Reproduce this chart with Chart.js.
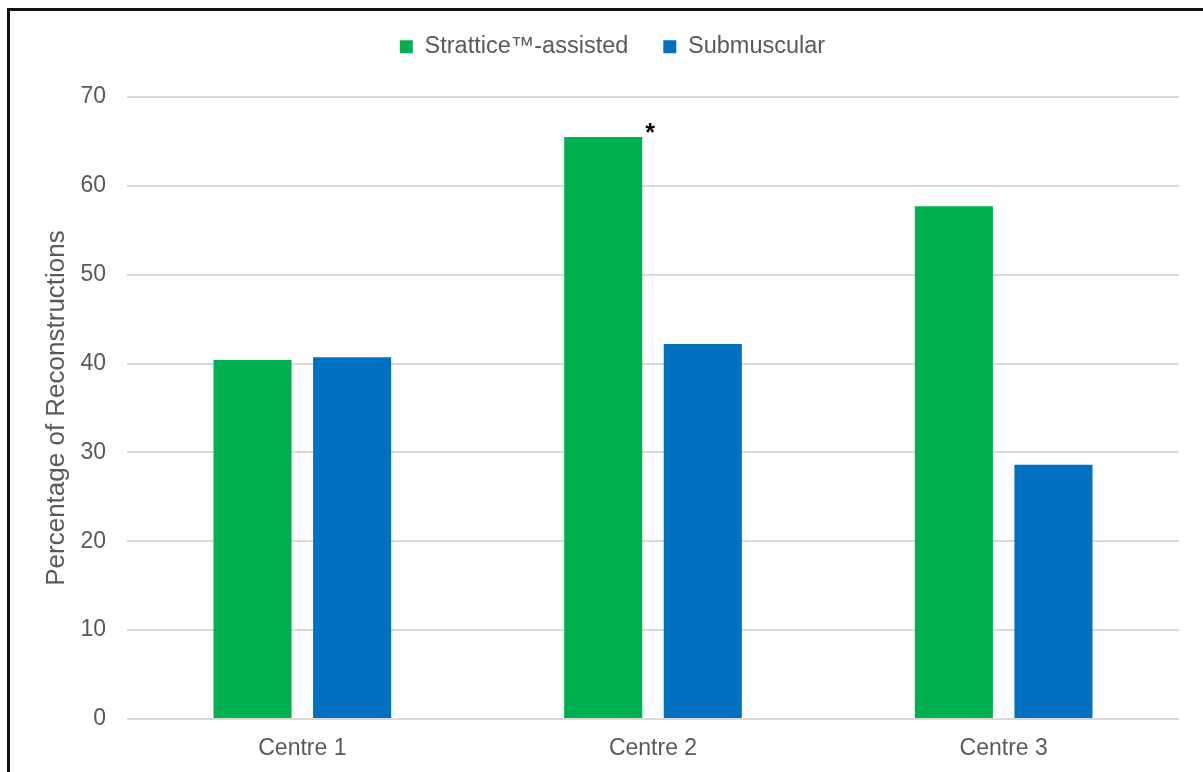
<!DOCTYPE html>
<html>
<head>
<meta charset="utf-8">
<title>Reconstructions by centre</title>
<script src="https://cdn.jsdelivr.net/npm/chart.js@4.4.0/dist/chart.umd.min.js"></script>
<style>
  html, body { margin: 0; padding: 0; background: #fff; overflow: hidden; }
  #frame {
    position: absolute; left: 7px; top: 8px;
    width: 1400px; height: 1000px;
    border: 3px solid #111; box-sizing: border-box;
  }
  #wrap { position: absolute; left: 0; top: 0; width: 1203px; height: 772px; }
</style>
</head>
<body>
<div id="frame"></div>
<div id="wrap"><canvas id="chart" width="1203" height="772"></canvas></div>
<script>
const centres = ['Centre 1', 'Centre 2', 'Centre 3'];
const stratticeAssisted = [40.4, 65.5, 57.7];
const submuscular = [40.7, 42.2, 28.6];
// significance marks shown beside the Strattice bars
const stratticeMarks = ['', '*', ''];

const FONT = '"Liberation Sans", Arial, sans-serif';
const GREY = '#595959';

// draws the significance asterisk at the top-right corner of a bar
const barMarks = {
  id: 'barMarks',
  afterDatasetsDraw(chart) {
    const meta = chart.getDatasetMeta(0);
    const ctx = chart.ctx;
    ctx.save();
    ctx.font = 'bold 25px ' + FONT;
    ctx.fillStyle = '#000';
    ctx.textAlign = 'left';
    ctx.textBaseline = 'alphabetic';
    meta.data.forEach((bar, i) => {
      if (!stratticeMarks[i]) return;
      ctx.fillText(stratticeMarks[i], bar.x + bar.width / 2 + 3, bar.y + 4);
    });
    ctx.restore();
  }
};

new Chart(document.getElementById('chart'), {
  type: 'bar',
  data: {
    labels: centres,
    datasets: [
      { label: 'Strattice™-assisted', data: stratticeAssisted, backgroundColor: '#00B050', borderWidth: 0 },
      { label: 'Submuscular', data: submuscular, backgroundColor: '#0070C0', borderWidth: 0 }
    ]
  },
  options: {
    responsive: false,
    animation: false,
    categoryPercentage: 0.568,
    barPercentage: 0.784,
    layout: { padding: { left: 46, right: 24, top: 0, bottom: 0 } },
    scales: {
      x: {
        grid: { display: false, drawTicks: false },
        border: { display: false },
        ticks: { color: GREY, font: { family: FONT, size: 23 }, padding: 16 },
        afterFit: (scale) => { scale.height = 53; }
      },
      y: {
        min: 0,
        max: 70,
        ticks: { stepSize: 10, color: GREY, font: { family: FONT, size: 23 }, padding: 21 },
        grid: { color: '#D9D9D9', lineWidth: 2, drawTicks: false },
        border: { display: false },
        title: {
          display: true,
          text: 'Percentage of Reconstructions',
          color: GREY,
          font: { family: FONT, size: 26, lineHeight: 0.8 },
          padding: 0
        },
        afterFit: (scale) => { scale.width = 81; }
      }
    },
    plugins: {
      legend: {
        position: 'top',
        labels: {
          color: GREY,
          font: { family: FONT, size: 23.5 },
          boxWidth: 13,
          boxHeight: 13,
          padding: 35
        }
      },
      // spacer between the legend and the plot area
      title: {
        display: true,
        text: '',
        weight: 500,
        font: { size: 10, lineHeight: 1 },
        padding: { top: 0, bottom: 18.5 }
      },
      tooltip: { enabled: false }
    }
  },
  plugins: [barMarks]
});
</script>
</body>
</html>
